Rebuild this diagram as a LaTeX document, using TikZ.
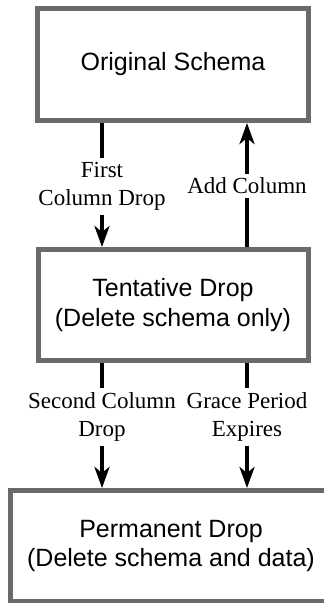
\documentclass[tikz,border=0pt]{standalone}
\usepackage{fontspec}
\setmainfont{Liberation Serif}
\setsansfont{Liberation Sans}
\usetikzlibrary{arrows.meta}
\definecolor{boxgray}{RGB}{106,106,106}

\begin{document}
\begin{tikzpicture}[x=1pt, y=-1pt,
  state/.style={draw=boxgray, line width=5pt, align=center, inner sep=0pt,
    font=\sffamily\fontsize{25}{29.5}\selectfont},
  lbl/.style={align=center, inner sep=4pt, outer sep=0pt,
    font=\fontsize{23}{28.5}\selectfont},
  conn/.style={line width=4pt},
  arr/.style={conn, -{Stealth[length=21pt, width=15pt, inset=6pt]}}]
\useasboundingbox (0,0) rectangle (324,603);
\clip (0,0) rectangle (324,603);
%% states
\node[state, minimum width=271pt, minimum height=112pt] (orig) at (173,64.5) {Original Schema};
\node[state, minimum width=270pt, minimum height=111pt] (tent) at (173,305) {Tentative Drop\\(Delete schema only)};
\node[state, minimum width=322pt, minimum height=111pt] (perm) at (171,546) {Permanent Drop\\(Delete schema and data)};
%% transition labels
\node[lbl] (firstdrop) at (102,186.5) {First\\Column Drop};
\node[lbl] (addcol) at (247,186) {Add Column};
\node[lbl] (seconddrop) at (102,417) {Second Column\\Drop};
\node[lbl] (grace) at (247,417) {Grace Period\\Expires};
%% transitions
\draw[conn] (firstdrop.north |- orig.south) -- (firstdrop.north);
\draw[arr] (firstdrop.south) -- (firstdrop.south |- tent.north);
\draw[conn] (addcol.south |- tent.north) -- (addcol.south);
\draw[arr] (addcol.north) -- (addcol.north |- orig.south);
\draw[conn] (seconddrop.north |- tent.south) -- (seconddrop.north);
\draw[arr] (seconddrop.south) -- (seconddrop.south |- perm.north);
\draw[conn] (grace.north |- tent.south) -- (grace.north);
\draw[arr] (grace.south) -- (grace.south |- perm.north);
\end{tikzpicture}
\end{document}
